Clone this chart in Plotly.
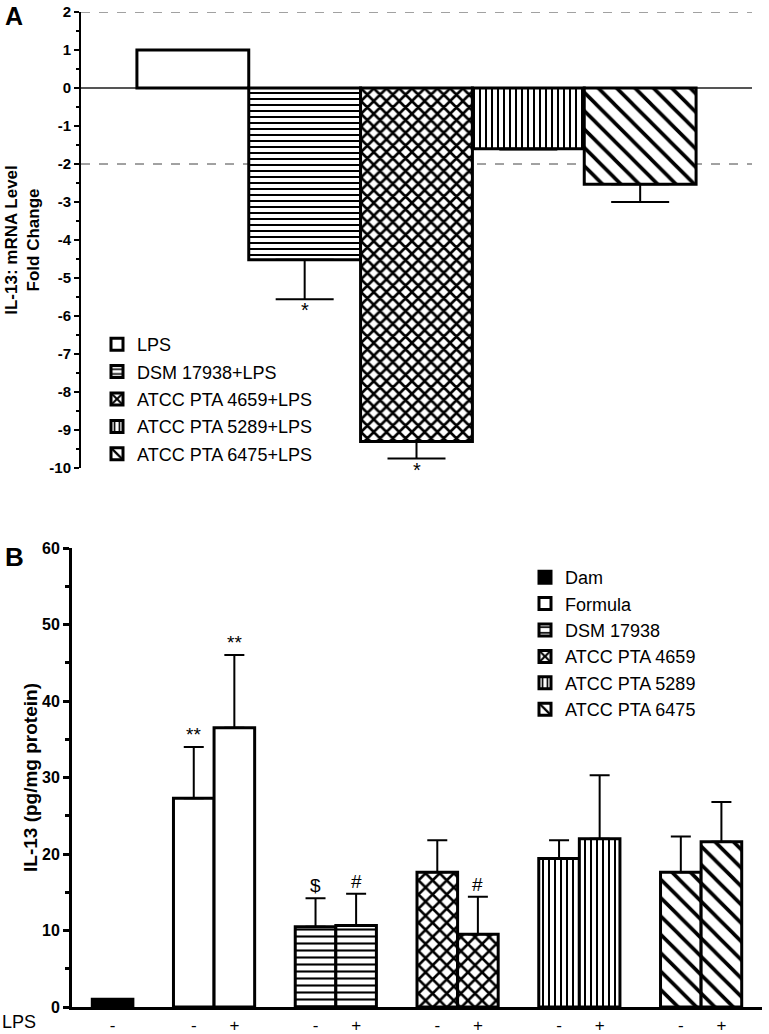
import plotly.graph_objects as go

# ---------------- Panel A data ----------------
groups_a = ["LPS", "DSM 17938+LPS", "ATCC PTA 4659+LPS", "ATCC PTA 5289+LPS", "ATCC PTA 6475+LPS"]
fold_change = [1.0, -4.52, -9.3, -1.6, -2.53]
fold_err = [0.0, 1.04, 0.45, 0.02, 0.47]
sig_a = ["", "*", "*", "", ""]
ticks_a = [2, 1, 0, -1, -2, -3, -4, -5, -6, -7, -8, -9, -10]

# ---------------- Panel B data ----------------
strains_b = ["Dam", "Formula", "DSM 17938", "ATCC PTA 4659", "ATCC PTA 5289", "ATCC PTA 6475"]
il13_no_lps = [1.0, 27.3, 10.5, 17.6, 19.4, 17.6]
il13_lps = [None, 36.5, 10.65, 9.5, 22.0, 21.6]
err_no_lps = [0.0, 6.7, 3.7, 4.2, 2.4, 4.7]
err_lps = [None, 9.5, 4.15, 4.9, 8.3, 5.2]
sig_no_lps = ["", "**", "$", "", "", ""]
sig_lps = ["", "**", "#", "#", "", ""]
lps_marks = ["-", "+"]
ticks_b = [0, 10, 20, 30, 40, 50, 60]

FONT = "Liberation Sans, Arial, sans-serif"

# styles (pattern shape, size, solidity, fill)
styles_a = [("", 8, 0.3, "white"), ("-", 6, 0.34, "white"), ("x", 9, 0.5, "white"),
            ("|", 6, 0.34, "white"), ("\\", 13, 0.28, "white")]
styles_b = [("", 8, 0.3, "black"), ("", 8, 0.3, "white"), ("-", 7, 0.3, "white"),
            ("x", 10, 0.45, "white"), ("|", 6, 0.34, "white"), ("\\", 13, 0.28, "white")]

fig = go.Figure()

# ---- Panel A bars ----
for i, name in enumerate(groups_a):
    shape, size, sol, fill = styles_a[i]
    v = fold_change[i]
    e = fold_err[i]
    fig.add_trace(go.Bar(
        x=[i], y=[v], width=1.0, name=name, legend="legend", legendgroup="a%d" % i,
        marker=dict(color=fill, line=dict(color="black", width=3),
                    pattern=dict(shape=shape, size=size, solidity=sol, fgcolor="black",
                                 bgcolor=fill, fgopacity=1)),
        error_y=dict(type="data", symmetric=False,
                     array=[e if v > 0 else 0], arrayminus=[e if v < 0 else 0],
                     color="black", thickness=2, width=29, visible=e > 0),
        xaxis="x", yaxis="y", showlegend=True,
    ))

# ---- Panel B bars ----
for g, name in enumerate(strains_b):
    shape, size, sol, fill = styles_b[g]
    if g == 0:
        xs = [1]
        ys = [il13_no_lps[0]]
        es = [err_no_lps[0]]
    else:
        xs = [3 * g, 3 * g + 1]
        ys = [il13_no_lps[g], il13_lps[g]]
        es = [err_no_lps[g], err_lps[g]]
    fig.add_trace(go.Bar(
        x=xs, y=ys, width=1.0, name=name, legend="legend2", legendgroup="b%d" % g,
        marker=dict(color=fill, line=dict(color="black", width=3),
                    pattern=dict(shape=shape, size=size, solidity=sol, fgcolor="black",
                                 bgcolor=fill, fgopacity=1)),
        error_y=dict(type="data", symmetric=False, array=es, arrayminus=[0] * len(es),
                     color="black", thickness=2, width=10, visible=g > 0),
        xaxis="x2", yaxis="y2",
    ))

annotations = []
# significance marks A
for i, s in enumerate(sig_a):
    if s:
        annotations.append(dict(x=i, y=fold_change[i] - fold_err[i], xref="x", yref="y", text=s,
                                showarrow=False, yanchor="top", yshift=2,
                                font=dict(family=FONT, size=20, color="black")))
# significance marks B
for g in range(len(strains_b)):
    if sig_no_lps[g]:
        x0 = 1 if g == 0 else 3 * g
        annotations.append(dict(x=x0, y=il13_no_lps[g] + err_no_lps[g], xref="x2", yref="y2",
                                text=sig_no_lps[g], showarrow=False, yanchor="bottom", yshift=0,
                                font=dict(family=FONT, size=19, color="black")))
    if sig_lps[g]:
        annotations.append(dict(x=3 * g + 1, y=il13_lps[g] + err_lps[g], xref="x2", yref="y2",
                                text=sig_lps[g], showarrow=False, yanchor="bottom", yshift=0,
                                font=dict(family=FONT, size=19, color="black")))

annotations += [
    dict(x=0.004, y=1.0, xref="paper", yref="paper", text="<b>A</b>", showarrow=False,
         xanchor="left", yanchor="top", font=dict(family=FONT, size=25, color="black")),
    dict(x=0.004, y=1 - 540 / 1034, xref="paper", yref="paper", text="<b>B</b>", showarrow=False,
         xanchor="left", yanchor="top", font=dict(family=FONT, size=26, color="black")),
    dict(x=0.0, y=0.0, xref="paper", yref="paper", text="LPS", showarrow=False,
         xanchor="left", yanchor="bottom", font=dict(family=FONT, size=18, color="black")),
]

# x tick positions / labels for panel B
tickvals_b = [1]
ticktext_b = ["-"]
for g in range(1, len(strains_b)):
    tickvals_b += [3 * g, 3 * g + 1]
    ticktext_b += lps_marks

shapes = [
    dict(type="line", xref="x domain", yref="y", x0=0, x1=1, y0=2, y1=2, layer="below",
         line=dict(color="#444", width=1, dash="dash")),
    dict(type="line", xref="x domain", yref="y", x0=0, x1=1, y0=-2, y1=-2, layer="below",
         line=dict(color="#444", width=1, dash="dash")),
]

fig.update_layout(
    width=769, height=1034,
    margin=dict(l=0, r=0, t=0, b=0, autoexpand=False),
    paper_bgcolor="white", plot_bgcolor="white",
    barmode="overlay",
    font=dict(family=FONT, color="black"),
    annotations=annotations,
    shapes=shapes,
    xaxis=dict(domain=[81 / 769, 752 / 769], range=[-1, 5], showticklabels=False, automargin=False,
               showline=False, showgrid=False, zeroline=False, ticks="", anchor="y"),
    yaxis=dict(domain=[1 - 468 / 1034, 1 - 12 / 1034], range=[-10, 2], anchor="x", automargin=False,
               tickvals=ticks_a, ticktext=[str(t) for t in ticks_a],
               showline=True, linecolor="black", linewidth=2, showgrid=False,
               zeroline=True, zerolinecolor="#555", zerolinewidth=1.5,
               ticks="outside", ticklen=5, tickwidth=2, tickcolor="black",
               minor=dict(dtick=0.5, tick0=0, ticks="outside", ticklen=3, tickwidth=2, tickcolor="black"),
               tickfont=dict(family=FONT, size=15, weight="bold"),
               title=dict(text="<b>IL-13: mRNA Level<br>Fold Change</b>",
                          font=dict(family=FONT, size=17), standoff=5)),
    xaxis2=dict(domain=[72 / 769, 762 / 769], range=[0, 17], anchor="y2", automargin=False,
                tickvals=tickvals_b, ticktext=ticktext_b, ticks="",
                tickfont=dict(family=FONT, size=17), ticklabelstandoff=1,
                showline=True, linecolor="black", linewidth=3, showgrid=False, zeroline=False),
    yaxis2=dict(domain=[1 - 1007 / 1034, 1 - 548 / 1034], range=[0, 60], anchor="x2", automargin=False,
                tickvals=ticks_b, showline=True, linecolor="black", linewidth=3, showgrid=False,
                zeroline=False, ticks="outside", ticklen=6, tickwidth=3, tickcolor="black",
                minor=dict(dtick=5, tick0=0, ticks="outside", ticklen=4, tickwidth=3, tickcolor="black"),
                tickfont=dict(family=FONT, size=16, weight="bold"),
                title=dict(text="<b>IL-13 (pg/mg protein)</b>", font=dict(family=FONT, size=19), standoff=0)),
    legend=dict(x=97 / 769, y=1 - 326 / 1034, xanchor="left", yanchor="top",
                font=dict(family=FONT, size=18), bgcolor="rgba(0,0,0,0)", tracegroupgap=1,
                itemwidth=30),
    legend2=dict(x=525 / 769, y=1 - 559 / 1034, xanchor="left", yanchor="top",
                 font=dict(family=FONT, size=18), bgcolor="rgba(0,0,0,0)", tracegroupgap=0,
                 itemwidth=30),
)

fig.write_html("out.html", config={"displayModeBar": False},
               post_script="document.body.style.margin='0';document.body.style.padding='0';")
